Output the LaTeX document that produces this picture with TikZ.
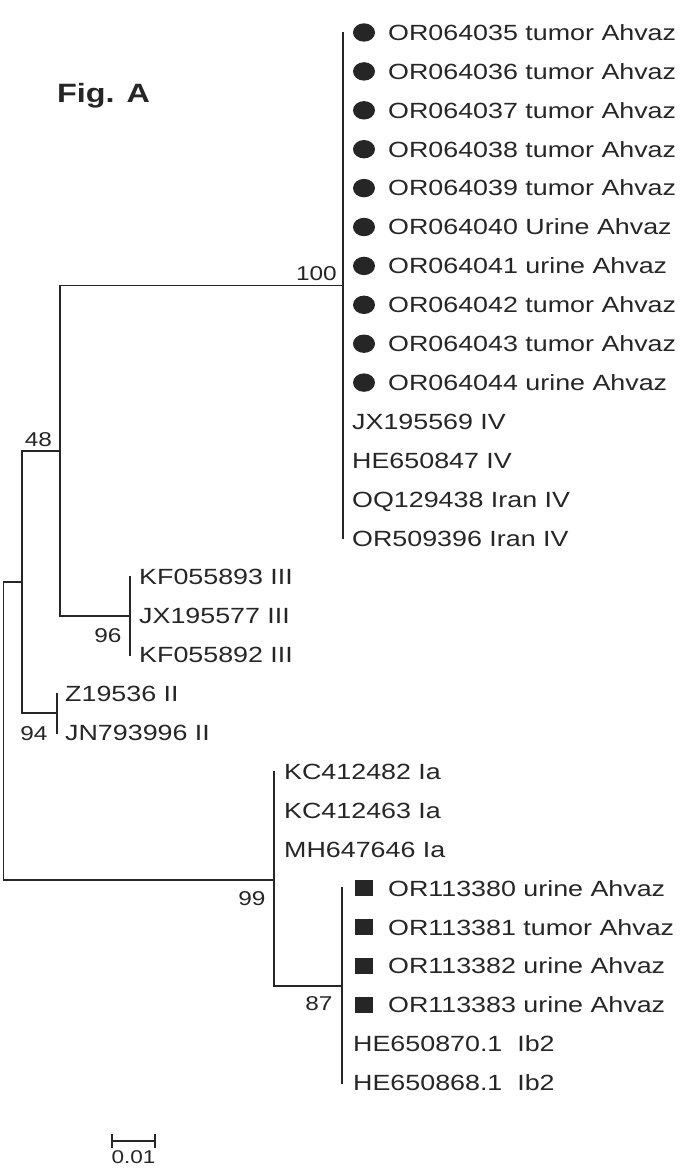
\documentclass[tikz,border=0pt]{standalone}
\usepackage{fontspec}
\setmainfont{Liberation Sans}[FakeStretch=1.22]
\definecolor{ink}{HTML}{262626}
\begin{document}
\begin{tikzpicture}[x=1pt,y=-1pt,
  branch/.style={draw=ink, line width=1.8pt, line cap=rect},
  taxon/.style={anchor=base west, inner sep=0pt, text=ink, font=\fontsize{22}{26}\selectfont},
  boot/.style={anchor=base, inner sep=0pt, text=ink, font=\fontsize{20}{24}\selectfont},
  title/.style={anchor=base west, inner sep=0pt, text=ink, font=\fontsize{26.5}{30}\selectfont\bfseries}]
\fill[white] (0,0) rectangle (691,1176);
\useasboundingbox (0,0) rectangle (691,1176);

\node[title] (fig) at (57,102) {Fig. A};

% --- taxa with circle markers (genotype IV, this study)
\foreach \i/\t in {0/OR064035 tumor Ahvaz,1/OR064036 tumor Ahvaz,2/OR064037 tumor Ahvaz,
  3/OR064038 tumor Ahvaz,4/OR064039 tumor Ahvaz,5/OR064040 Urine Ahvaz,6/OR064041 urine Ahvaz,
  7/OR064042 tumor Ahvaz,8/OR064043 tumor Ahvaz,9/OR064044 urine Ahvaz}{
  \fill[ink] (364,{32.5+38.9*\i}) ellipse [x radius=11, y radius=9.2];
  \node[taxon] (t\i) at (388,{40.3+38.9*\i}) {\t};
}
\foreach \i/\t in {10/JX195569 IV,11/HE650847 IV,12/OQ129438 Iran IV,13/OR509396 Iran IV}{
  \node[taxon] (t\i) at (352,{40.3+38.9*\i}) {\t};
}
\foreach \i/\t in {14/KF055893 III,15/JX195577 III,16/KF055892 III}{
  \node[taxon] (t\i) at (139,{40.3+38.9*\i}) {\t};
}
\foreach \i/\t in {17/Z19536 II,18/JN793996 II}{
  \node[taxon] (t\i) at (65,{40.3+38.9*\i}) {\t};
}
\foreach \i/\t in {19/KC412482 Ia,20/KC412463 Ia,21/MH647646 Ia}{
  \node[taxon] (t\i) at (284,{40.3+38.9*\i}) {\t};
}
\foreach \i/\t in {22/OR113380 urine Ahvaz,23/OR113381 tumor Ahvaz,24/OR113382 urine Ahvaz,25/OR113383 urine Ahvaz}{
  \fill[ink] (364,{32.5+38.9*\i}) +(-8.8,-8) rectangle +(8.8,8);
  \node[taxon] (t\i) at (388,{40.3+38.9*\i}) {\t};
}
\node[taxon] (t26) at (353,{40.3+38.9*26}) {HE650870.1~~Ib2};
\node[taxon] (t27) at (353,{40.3+38.9*27}) {HE650868.1~~Ib2};

% --- internal nodes
\coordinate (ivT) at (343,32.5);   \coordinate (ivB) at (343,538.2);
\coordinate (nIV) at (343,285.4);
\coordinate (iiiT) at (130,577.1); \coordinate (iiiB) at (130,654.9);
\coordinate (nIII) at (130,616);
\coordinate (n48) at (60,450.7);
\coordinate (iiT) at (57,693.8);   \coordinate (iiB) at (57,732.7);
\coordinate (nII) at (57,713.3);
\coordinate (nA) at (21.7,582);
\coordinate (iT) at (274,771.6);
\coordinate (nIb) at (342,985.6);
\coordinate (nI) at (274,880);
\coordinate (ibT) at (342,888.3);  \coordinate (ibB) at (342,1082.8);
\coordinate (root) at (3.5,731);

% --- branches
\draw[branch] (ivT) -- (ivB);
\draw[branch] (iiiT) -- (iiiB);
\draw[branch] (iiT) -- (iiB);
\draw[branch] (ibT) -- (ibB);
\draw[branch] (iT) -- (nI) |- (nIb);
\draw[branch] (nIV) -| (n48) |- (nIII);
\draw[branch] (n48) -| (nA) |- (nII);
\draw[branch] (nA) -| (root) |- (nI);

% --- bootstrap values
\node[boot, anchor=base east] (b100) at (337,280) {100};
\node[boot] (b48) at (38.5,446) {48};
\node[boot] (b96) at (108,642) {96};
\node[boot] (b94) at (34,740) {94};
\node[boot] (b99) at (252,905) {99};
\node[boot] (b87) at (319,1010) {87};

% --- scale bar
\coordinate (sL) at (112,1141); \coordinate (sR) at (155,1141);
\draw[draw=ink, line width=1.6pt] (sL) -- (sR);
\draw[draw=ink, line width=1.6pt] ([yshift=-7pt]sL) -- ([yshift=7pt]sL);
\draw[draw=ink, line width=1.6pt] ([yshift=-7pt]sR) -- ([yshift=7pt]sR);
\node[boot, font=\fontsize{18.5}{21}\selectfont] (scl) at (133.5,1163.6) {0.01};
\end{tikzpicture}
\end{document}
